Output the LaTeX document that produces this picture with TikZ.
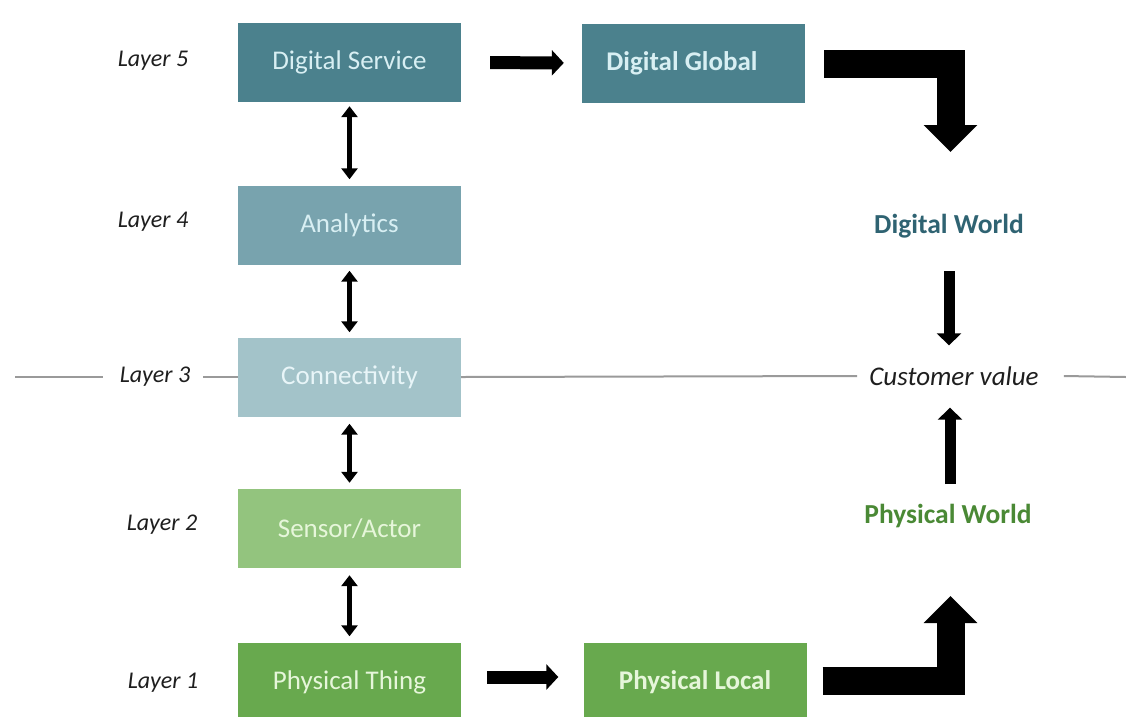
\documentclass[tikz,border=0pt]{standalone}
\usepackage{fontspec}
\setmainfont{Carlito}
\usetikzlibrary{arrows.meta}

\definecolor{dsfill}{HTML}{4B818D}
\definecolor{anfill}{HTML}{78A3AE}
\definecolor{cnfill}{HTML}{A3C3C9}
\definecolor{safill}{HTML}{93C47E}
\definecolor{ptfill}{HTML}{68A94E}
\definecolor{tealtext}{HTML}{D8EFF3}
\definecolor{greentext}{HTML}{E6F6DA}
\definecolor{dwcolor}{HTML}{2F6372}
\definecolor{pwcolor}{HTML}{4A8935}
\definecolor{axis}{HTML}{9A9A9A}
\definecolor{labelcol}{HTML}{1E1E1E}

\tikzset{
  layerbox/.style={rectangle, minimum width=223pt, minimum height=79pt,
    inner sep=0pt, font=\fontsize{27}{32}\selectfont},
  layerlabel/.style={font=\fontsize{24}{28}\selectfont\itshape, text=labelcol, inner sep=0pt},
  twoway/.style={line width=5pt, {Triangle[width=16pt,length=11pt]}-{Triangle[width=16pt,length=11pt]}},
  flow/.style={line width=13pt, -{Triangle[width=25pt,length=12pt]}},
  bigflow/.style={line width=28pt, line join=miter, -{Triangle[width=52pt,length=27pt]}},
  valueflow/.style={line width=11pt, -{Triangle[width=24pt,length=12pt]}},
  axisline/.style={draw=axis, line width=2pt},
}

\begin{document}
\begin{tikzpicture}[x=1pt, y=-1pt]
\useasboundingbox (0,0) rectangle (1126,716);

% layer stack
\node[layerbox, fill=dsfill, text=tealtext] (ds) at (349.5,62.5) {Digital Service};
\node[layerbox, fill=anfill, text=tealtext] (an) at (349.5,225) {Analytics};
\node[layerbox, fill=cnfill, text=tealtext!60!white] (cn) at (349.5,377) {Connectivity};
\node[layerbox, fill=safill, text=greentext] (sa) at (349.5,528.5) {Sensor/Actor};
\node[layerbox, fill=ptfill, text=greentext] (pt) at (349.5,682) {Physical Thing};

% global / local boxes (global title sits a little left of centre)
\node[layerbox, fill=dsfill, text=tealtext, font=\fontsize{27}{32}\selectfont\bfseries]
  (dg) at (693.5,63) {\hbox to 200pt{\hfil Digital Global\hfil\hskip 23pt}};
\node[layerbox, fill=ptfill, text=greentext, font=\fontsize{27}{32}\selectfont\bfseries] (pl) at (695,682) {Physical Local};

% layer labels
\node[layerlabel] (l5) at (153,61) {Layer 5};
\node[layerlabel] (l4) at (153,222) {Layer 4};
\node[layerlabel] (l3) at (155,377) {Layer 3};
\node[layerlabel] (l2) at (162,525) {Layer 2};
\node[layerlabel] (l1) at (163,683) {Layer 1};

% right column
\node[font=\fontsize{27.5}{32}\selectfont\bfseries, text=dwcolor, inner sep=0pt] (dw) at (949,226) {Digital World};
\node[font=\fontsize{27}{32}\selectfont\itshape, text=labelcol, inner sep=0pt] (cv) at (954,376) {Customer value};
\node[font=\fontsize{27.5}{32}\selectfont\bfseries, text=pwcolor, inner sep=0pt] (pw) at (948,516) {Physical World};

% horizontal divider through layer 3
\coordinate (axL) at (15,377);
\coordinate (axR) at (1126,377);
\draw[axisline] (axL) -- ([xshift=-17pt]l3.west);
\draw[axisline] ([xshift=13pt]l3.east) -- (cn.west);
\draw[axisline] (cn.east) -- ([xshift=-12pt]cv.west);
\draw[axisline] ([xshift=25pt]cv.east) -- (axR);

% two-way links between layers
\draw[twoway, shorten <=4pt, shorten >=6pt] (ds.south) -- (an.north);
\draw[twoway, shorten <=6pt, shorten >=5pt] (an.south) -- (cn.north);
\draw[twoway, shorten <=7pt, shorten >=6pt] (cn.south) -- (sa.north);
\draw[twoway, shorten <=7pt, shorten >=6pt] (sa.south) -- (pt.north);

% horizontal flows
\draw[flow, shorten <=29pt, shorten >=18pt] (ds.east) -- (dg.west);
\draw[flow, shorten <=26pt, shorten >=25pt] ([yshift=5pt]pt.east) -- ([yshift=5pt]pl.west);

% bent flows into the two worlds
\coordinate (dgtip) at (950.5,152);
\coordinate (pltip) at (950.5,596);
\draw[bigflow] ([xshift=19pt,yshift=-1pt]dg.east) -| (dgtip);
\draw[bigflow] ([xshift=16pt,yshift=1pt]pl.east) -| (pltip);

% into customer value
\draw[valueflow, shorten <=33pt, shorten >=21pt] (dw.south) -- (dw.south |- cv.north);
\draw[valueflow, shorten <=20pt, shorten >=22pt] (pw.north) ++(2pt,0) coordinate (pwtop) -- (pwtop |- cv.south);
\end{tikzpicture}
\end{document}
